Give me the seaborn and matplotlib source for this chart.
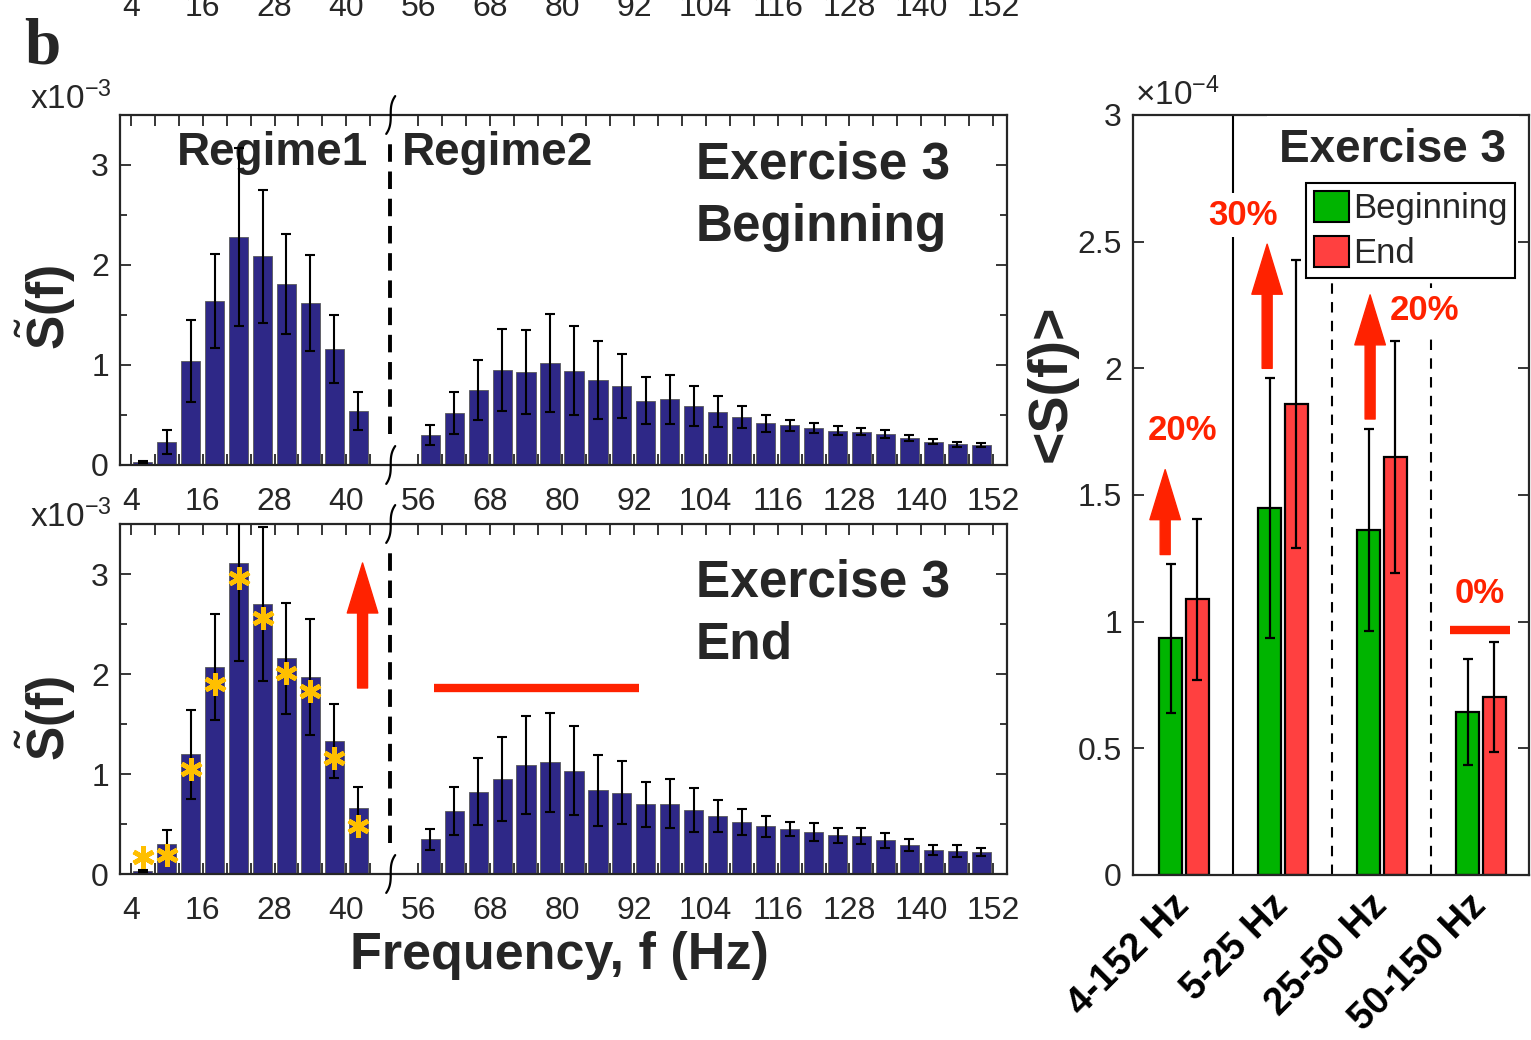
import numpy as np
import pandas as pd
import matplotlib
matplotlib.use("Agg")
import matplotlib.pyplot as plt
import matplotlib.transforms as mtransforms
from matplotlib.patches import Patch
import seaborn as sns

# ---------------- data ----------------
# regime 1 bin centres (Hz) and regime 2 bin centres (Hz), 4 Hz wide bins
reg1_centres = [6, 10, 14, 18, 22, 26, 30, 34, 38, 42]
reg2_centres = [58, 62, 66, 70, 74, 78, 82, 86, 90, 94, 98, 102, 106, 110,
                114, 118, 122, 126, 130, 134, 138, 142, 146, 150]
reg1_ticklabels = [4, 16, 28, 40]
reg2_ticklabels = [56, 68, 80, 92, 104, 116, 128, 140, 152]

# Exercise 3 Beginning (x1e-3)
begin_r1 = [0.03, 0.235, 1.04, 1.64, 2.28, 2.085, 1.81, 1.62, 1.16, 0.545]
begin_r1_err = [0.01, 0.12, 0.41, 0.47, 0.89, 0.66, 0.50, 0.48, 0.34, 0.19]
begin_r2 = [0.30, 0.525, 0.755, 0.95, 0.935, 1.02, 0.945, 0.848, 0.79, 0.642,
            0.656, 0.593, 0.533, 0.48, 0.42, 0.397, 0.37, 0.344, 0.334, 0.311,
            0.272, 0.235, 0.209, 0.199]
begin_r2_err = [0.10, 0.21, 0.30, 0.41, 0.42, 0.49, 0.445, 0.39, 0.32, 0.235,
                0.245, 0.20, 0.155, 0.11, 0.085, 0.053, 0.05, 0.043, 0.038, 0.043,
                0.027, 0.027, 0.025, 0.022]

# Exercise 3 End (x1e-3)
end_r1 = [0.03, 0.297, 1.197, 2.067, 3.107, 2.703, 2.157, 1.973, 1.33, 0.66]
end_r1_err = [0.01, 0.14, 0.447, 0.53, 0.98, 0.77, 0.555, 0.58, 0.373, 0.207]
end_r1_star = [0.17, 0.19, 1.05, 1.90, 2.96, 2.56, 2.01, 1.83, 1.16, 0.48]
end_r2 = [0.347, 0.627, 0.825, 0.954, 1.089, 1.119, 1.033, 0.838, 0.812, 0.696,
          0.703, 0.637, 0.581, 0.518, 0.479, 0.449, 0.419, 0.389, 0.383, 0.337,
          0.294, 0.241, 0.231, 0.218]
end_r2_err = [0.105, 0.24, 0.333, 0.42, 0.49, 0.495, 0.445, 0.353, 0.314, 0.226,
              0.245, 0.221, 0.163, 0.13, 0.104, 0.073, 0.088, 0.074, 0.078, 0.075,
              0.06, 0.048, 0.056, 0.041]

# band averages <S(f)> (x1e-4)
bands = ["4-152 Hz", "5-25 Hz", "25-50 Hz", "50-150 Hz"]
band_begin = [0.935, 1.449, 1.362, 0.644]
band_begin_err = [0.294, 0.512, 0.397, 0.209]
band_end = [1.088, 1.86, 1.65, 0.703]
band_end_err = [0.318, 0.568, 0.457, 0.218]
band_change = ["20%", "30%", "20%", "0%"]

# ---------------- style ----------------
NAVY = "#2E2887"
GREEN = "#00B400"
REDBAR = "#FF4040"
RED = "#FF2200"
STAR = "#FFBF00"
AXC = "#262626"
GAP = 4          # axis compression of the regime-2 segment
BREAK = 47.3     # location of the axis break
XPAD = 15.5

sns.set_theme(style="white")
plt.rcParams["font.family"] = ["Liberation Sans", "DejaVu Sans"]
plt.rcParams["mathtext.fontset"] = "custom"
plt.rcParams["mathtext.rm"] = "Liberation Sans"
plt.rcParams["mathtext.bf"] = "Liberation Sans:bold"
plt.rcParams["mathtext.it"] = "Liberation Sans:italic"
plt.rcParams["mathtext.default"] = "regular"

W, H = 1531, 1040
fig = plt.figure(figsize=(W / 100, H / 100), dpi=100)


def fax(l, t, r, b):
    return fig.add_axes([l / W, 1 - b / H, (r - l) / W, (b - t) / H])


ax1 = fax(120, 115, 1007, 465)
ax2 = fax(120, 524, 1007, 874)
ax3 = fax(1133, 115, 1529, 875)

major_pos = reg1_ticklabels + [f - GAP for f in reg2_ticklabels]
major_lab = [str(v) for v in reg1_ticklabels + reg2_ticklabels]
edges = sorted(set([c - 2 for c in reg1_centres] + [c + 2 for c in reg1_centres]
                   + [c - 2 - GAP for c in reg2_centres] + [c + 2 - GAP for c in reg2_centres]))
minor_pos = [e for e in edges if e not in major_pos]
XLIM = (2.2, 150.3)


def style_spec_axis(ax):
    ax.set_xlim(*XLIM)
    ax.set_ylim(0, 3.5)
    ax.set_xticks(major_pos, labels=major_lab)
    ax.set_xticks(minor_pos, minor=True)
    ax.set_yticks([0, 1, 2, 3], labels=["0", "1", "2", "3"])
    ax.set_yticks([0.5, 1.5, 2.5, 3.5], minor=True)
    ax.tick_params(which="both", direction="in", top=True, right=True,
                   bottom=True, left=True, color=AXC, width=1.3)
    ax.tick_params(which="major", length=8, labelsize=23, labelcolor=AXC)
    ax.tick_params(axis="x", which="major", pad=XPAD)
    ax.tick_params(axis="y", which="major", pad=8)
    ax.tick_params(axis="x", which="minor", length=8)
    ax.tick_params(axis="y", which="minor", length=5)
    ax.set_xlabel("")
    ax.set_ylabel("")
    for s in ax.spines.values():
        s.set_visible(True)
        s.set_color(AXC)
        s.set_linewidth(1.6)
    # break: dashed line and squiggles
    ax.axvline(BREAK, ymin=0.09, ymax=0.94, color="black", lw=2.8,
               ls=(0, (4.5, 2.5)), zorder=2)
    tr = mtransforms.blended_transform_factory(ax.transData, ax.transAxes)
    t = np.linspace(-1, 1, 60)
    for yc in (0.0, 1.0):
        ax.plot(BREAK + 0.75 * t ** 3 + 0.1, yc + 0.054 * t, transform=tr,
                color="black", lw=1.6, clip_on=False, zorder=6)


def draw_spec(ax, v1, e1, v2, e2):
    pos = reg1_centres + [c - GAP for c in reg2_centres]
    vals = v1 + v2
    errs = e1 + e2
    df = pd.DataFrame({"pos": pos, "val": vals})
    sns.barplot(data=df, x="pos", y="val", native_scale=True, color=NAVY,
                saturation=1, width=0.8, edgecolor="#5a5a5a", linewidth=0.6,
                errorbar=None, ax=ax, zorder=2)
    bars = sorted(ax.patches, key=lambda p: p.get_x())
    xc = [p.get_x() + p.get_width() / 2 for p in bars]
    ax.errorbar(xc, vals, yerr=errs, fmt="none", ecolor="black", elinewidth=1.5,
                capsize=3.5, capthick=1.5, zorder=3)
    style_spec_axis(ax)
    return xc


draw_spec(ax1, begin_r1, begin_r1_err, begin_r2, begin_r2_err)
xc2 = draw_spec(ax2, end_r1, end_r1_err, end_r2, end_r2_err)

# significance asterisks on regime-1 bars of the End panel
ax2.plot(xc2[:len(end_r1_star)], end_r1_star, ls="none", marker=(6, 2, 0),
         ms=16, mew=3.4, mec=STAR, color=STAR, zorder=5)

# panel text
ax1.text(27.7, 3.12, "Regime1", ha="center", va="center", fontsize=33, fontweight="bold", zorder=1)
ax1.text(65.3, 3.12, "Regime2", ha="center", va="center", fontsize=33, fontweight="bold")
ax1.text(98.3, 3.0, "Exercise 3", ha="left", va="center", fontsize=37, fontweight="bold")
ax1.text(98.3, 2.37, "Beginning", ha="left", va="center", fontsize=37, fontweight="bold")
ax2.text(98.3, 2.91, "Exercise 3", ha="left", va="center", fontsize=37, fontweight="bold")
ax2.text(98.3, 2.29, "End", ha="left", va="center", fontsize=37, fontweight="bold")

# red annotations on End panel
ax2.annotate("", xy=(42.7, 3.11), xytext=(42.7, 1.86),
             arrowprops=dict(arrowstyle="simple,head_length=1.8,head_width=1.1,tail_width=0.36",
                             color=RED, mutation_scale=20, shrinkA=0, shrinkB=0), zorder=6)
ax2.plot([54.7, 88.8], [1.86, 1.86], color=RED, lw=6, solid_capstyle="butt", zorder=6)

# cropped tick labels of the panel above
axa = fig.add_axes([120 / W, 1 + 28.5 / H, 887 / W, 0.1])
axa.set_xlim(*XLIM)
axa.set_xticks(major_pos, labels=major_lab)
axa.set_yticks([])
axa.tick_params(axis="x", length=0, labelsize=23, labelcolor=AXC, pad=XPAD)
for s in axa.spines.values():
    s.set_visible(False)
axa.patch.set_visible(False)

# ---------------- band average panel ----------------
dfr = pd.DataFrame({"band": bands * 2,
                    "session": ["Beginning"] * 4 + ["End"] * 4,
                    "val": band_begin + band_end})
sns.barplot(data=dfr, x="band", y="val", hue="session",
            palette={"Beginning": GREEN, "End": REDBAR}, saturation=1,
            width=0.54, gap=0.148, edgecolor="black", linewidth=1.6,
            errorbar=None, legend=False, ax=ax3, zorder=2)
allvals = band_begin + band_end
allerrs = band_begin_err + band_end_err
ex, ey, ee = [], [], []
for p in ax3.patches:
    h = p.get_height()
    if not np.isfinite(h) or h <= 0:
        continue
    i = int(np.argmin([abs(h - v) for v in allvals]))
    ex.append(p.get_x() + p.get_width() / 2)
    ey.append(allvals[i])
    ee.append(allerrs[i])
ax3.errorbar(ex, ey, yerr=ee, fmt="none", ecolor="black", elinewidth=1.6,
             capsize=3.5, capthick=1.6, zorder=3)

ax3.axvline(0.5, color="black", lw=1.5, zorder=1)
for xv in (1.5, 2.5):
    ax3.axvline(xv, color="black", lw=1.5, ls=(0, (5, 4)), zorder=1)

ax3.set_xlim(-0.515, 3.485)
ax3.set_ylim(0, 3)
ax3.set_yticks([0, 0.5, 1, 1.5, 2, 2.5, 3],
               labels=["0", "0.5", "1", "1.5", "2", "2.5", "3"])
ax3.set_xticks(range(4))
ax3.set_xticklabels(bands, rotation=45, ha="right", va="center",
                    rotation_mode="anchor", fontweight="bold", fontsize=27.5)
ax3.tick_params(axis="x", length=0, pad=18, labelcolor="black")
ax3.tick_params(axis="y", direction="in", left=True, right=True, length=8,
                width=1.3, color=AXC, labelsize=23, labelcolor=AXC, pad=8)
ax3.set_xlabel("")
ax3.set_ylabel("")
for s in ax3.spines.values():
    s.set_visible(True)
    s.set_color(AXC)
    s.set_linewidth(1.6)

ax3.text(2.11, 2.86, "Exercise 3", ha="center", va="center", fontsize=33,
         fontweight="bold", zorder=5,
         bbox=dict(facecolor="white", edgecolor="none", pad=9))
leg = ax3.legend(handles=[Patch(facecolor=GREEN, edgecolor="black", lw=1.5, label="Beginning"),
                          Patch(facecolor=REDBAR, edgecolor="black", lw=1.5, label="End")],
                 loc="upper right", bbox_to_anchor=(0.965, 0.9105), fontsize=25,
                 frameon=True, fancybox=False, framealpha=1, edgecolor="black",
                 handlelength=1.0, handleheight=1.0, handletextpad=0.12,
                 borderpad=0.22, borderaxespad=0, labelspacing=0.3)
leg.get_frame().set_linewidth(1.5)
leg.set_zorder(7)

arrow_style = dict(arrowstyle="simple,head_length=1.8,head_width=1.1,tail_width=0.36",
                   color=RED, mutation_scale=20, shrinkA=0, shrinkB=0)
for (x0, y0, y1) in [(-0.19, 1.265, 1.60), (0.84, 2.0, 2.49), (1.88, 1.80, 2.29)]:
    ax3.annotate("", xy=(x0, y1), xytext=(x0, y0), arrowprops=arrow_style, zorder=6)
for (lab, x, y) in zip(band_change, [-0.02, 0.60, 2.43, 2.99], [1.755, 2.605, 2.23, 1.11]):
    ax3.text(x, y, lab, ha="center", va="center", fontsize=25, fontweight="bold",
             color=RED, zorder=6, bbox=dict(facecolor="white", edgecolor="none", pad=4))
ax3.plot([2.69, 3.29], [0.968, 0.968], color=RED, lw=6, solid_capstyle="butt", zorder=6)

# ---------------- figure level labels ----------------
fig.text(24 / W, 1 - 64 / H, "b", fontfamily=["Liberation Serif", "DejaVu Serif"],
         fontweight="bold", fontsize=47, va="baseline", ha="left")
fig.text(30 / W, 1 - 109 / H, r"x10$^{-3}$", fontsize=24, color=AXC, va="baseline")
fig.text(30 / W, 1 - 527 / H, r"x10$^{-3}$", fontsize=24, color=AXC, va="baseline")
fig.text(1135 / W, 1 - 105 / H, r"$\times$10$^{-4}$", fontsize=24, color=AXC, va="baseline")
for yc in (307, 718):
    fig.text(46 / W, 1 - yc / H, r"$\tilde{\mathbf{S}}\mathbf{(f)}$", rotation=90,
             ha="center", va="center", fontsize=37)
fig.text(1052 / W, 1 - 383 / H, "<S(f)>", rotation=90, ha="center", va="center",
         fontsize=40, fontweight="bold")
fig.text(559 / W, 1 - 955 / H, "Frequency, f (Hz)", ha="center", va="center",
         fontsize=37.5, fontweight="bold")

fig.savefig("out.png", dpi=100)
